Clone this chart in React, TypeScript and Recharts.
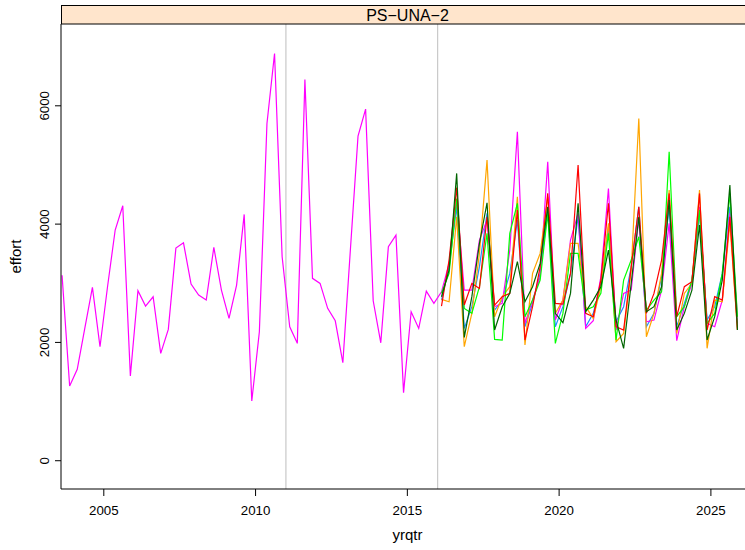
import React from 'react';
import { LineChart, Line, XAxis, YAxis, ReferenceLine } from 'recharts';

const FONT = '"Liberation Sans", Arial, Helvetica, sans-serif';

// Quarter mid-points (year + 0.125, 0.375, 0.625, 0.875)
const quarterTimes = (start: number, n: number) =>
  Array.from({ length: n }, (_, i) => start + i * 0.25);

const HIST_START = 2003.625;
const PROJ_START = 2016.125;

// Observed effort, 2003 Q3 .. 2016 Q1
const histEffort = [
  3135, 1262, 1545, 2240, 2930, 1927, 2950, 3900, 4310, 1432, 2873, 2614, 2772,
  1815, 2220, 3595, 3684, 2986, 2800, 2716, 3606, 2885, 2406, 2969, 4164, 1009,
  2180, 5702, 6885, 3448, 2265, 1984, 6446, 3083, 2998, 2576, 2366, 1656, 3578,
  5487, 5944, 2704, 1994, 3617, 3814, 1149, 2518, 2237, 2868, 2660, 2856,
];

// Projected effort, 2016 Q1 .. 2025 Q4
const projDarkgreen = [
  2772, 3223, 4857, 2085, 2773, 3674, 4361, 2209, 2604, 2829, 3364, 2688,
  2942, 3336, 4293, 2491, 2333, 2829, 4350, 2520, 2716, 2942, 3561, 2378,
  1900, 2998, 4124, 2519, 2604, 2942, 4406, 2209, 2491, 2885, 3984, 2040,
  2435, 3054, 4660, 2209,
];
const projRed = [
  2615, 3392, 4620, 2632, 2998, 2913, 4124, 2632, 2773, 2829, 4237, 2040,
  2604, 3280, 4519, 2660, 2649, 3167, 4998, 2491, 2435, 3054, 4350, 2266,
  2209, 3280, 4293, 2491, 2829, 3392, 4519, 2435, 2942, 3026, 4519, 2209,
  2773, 2716, 4124, 2209,
];
const projGreen = [
  2830, 3167, 4434, 2575, 2491, 2942, 3843, 2052, 2040, 3843, 4350, 2435,
  2716, 3054, 4181, 1984, 2491, 3505, 3505, 2547, 2604, 2829, 3843, 2040,
  3054, 3392, 3787, 2547, 2716, 2857, 5223, 2435, 2604, 3054, 4237, 2322,
  2491, 3167, 4519, 2435,
];
const projBlue = [
  2716, 3280, 4293, 2237, 2604, 3280, 4181, 2547, 2716, 3167, 4068, 2266,
  2660, 3167, 4237, 2266, 2604, 3167, 4124, 2266, 2491, 2998, 3956, 2350,
  2604, 3280, 4293, 2266, 2491, 3110, 4293, 2266, 2660, 3054, 4181, 2378,
  2604, 3167, 4293, 2322,
];
const projMagenta = [
  2856, 3336, 4406, 2885, 2885, 3730, 4068, 2604, 2660, 3561, 5561, 2322,
  2716, 3110, 5054, 2378, 2716, 3730, 4181, 2237, 2367, 3110, 4603, 2209,
  2829, 2885, 4096, 2350, 2378, 2885, 4012, 2029, 2604, 2998, 4293, 2322,
  2266, 2716, 4181, 2435,
];
const projOrange = [
  2727, 2688, 4124, 1928, 2491, 3505, 5082, 2435, 2773, 2942, 4462, 1956,
  3167, 3505, 4462, 2491, 2716, 3674, 3674, 2604, 2406, 2942, 4012, 2012,
  2153, 3223, 5786, 2096, 2491, 3167, 4575, 2153, 2829, 2998, 4575, 1900,
  2716, 2688, 4012, 2209,
];

const X_TICKS = [2005, 2010, 2015, 2020, 2025];
const Y_TICKS = [0, 2000, 4000, 6000];
const REF_YEARS = [2011, 2016];

const projSeries = [
  { key: 'blue', values: projBlue, color: '#1E90FF' },
  { key: 'magenta', values: projMagenta, color: '#FF00FF' },
  { key: 'orange', values: projOrange, color: '#FFA500' },
  { key: 'green', values: projGreen, color: '#00FF00' },
  { key: 'red', values: projRed, color: '#FF0000' },
  { key: 'darkgreen', values: projDarkgreen, color: '#006400' },
];

// Merge everything into one table keyed by yrqtr
const buildRows = () => {
  const map = new Map<number, Record<string, number>>();
  const put = (t: number, k: string, v: number) => {
    const key = Math.round(t * 1000) / 1000;
    if (!map.has(key)) map.set(key, { yrqtr: key });
    map.get(key)![k] = v;
  };
  quarterTimes(HIST_START, histEffort.length).forEach((t, i) => put(t, 'hist', histEffort[i]));
  projSeries.forEach((s) =>
    quarterTimes(PROJ_START, s.values.length).forEach((t, i) => put(t, s.key, s.values[i]))
  );
  return Array.from(map.values()).sort((a, b) => a.yrqtr - b.yrqtr);
};
const rows = buildRows();

const XTick = (props: any) => {
  const { x, payload } = props;
  return (
    <text x={x} y={514.5} textAnchor="middle" fontSize={13.3} fontFamily={FONT} fill="#000">
      {payload.value}
    </text>
  );
};

const YTick = (props: any) => {
  const { y, payload } = props;
  const bx = 49.5;
  return (
    <text
      x={bx}
      y={y}
      textAnchor="middle"
      fontSize={13.3}
      fontFamily={FONT}
      fill="#000"
      transform={`rotate(-90 ${bx} ${y})`}
    >
      {payload.value}
    </text>
  );
};

export default function App() {
  return (
    <div
      style={{
        position: 'absolute',
        left: 0,
        top: 0,
        width: 745,
        height: 550,
        overflow: 'hidden',
        background: '#fff',
      }}
    >
      <LineChart
        width={760}
        height={550}
        data={rows}
        margin={{ top: 24, right: 6, bottom: 21, left: 21 }}
      >
        <XAxis
          dataKey="yrqtr"
          type="number"
          domain={[2003.59, 2026.42]}
          allowDataOverflow
          ticks={X_TICKS}
          interval={0}
          tickSize={7}
          height={40}
          stroke="#000"
          tick={<XTick />}
        />
        <YAxis
          type="number"
          domain={[-478, 7383]}
          allowDataOverflow
          ticks={Y_TICKS}
          interval={0}
          tickSize={6}
          width={40}
          stroke="#000"
          tick={<YTick />}
        />
        {REF_YEARS.map((yr) => (
          <ReferenceLine key={yr} x={yr} stroke="#BEBEBE" strokeWidth={1} />
        ))}
        <Line
          dataKey="hist"
          stroke="#FF00FF"
          strokeWidth={1.2}
          dot={false}
          isAnimationActive={false}
        />
        {projSeries.map((s) => (
          <Line
            key={s.key}
            dataKey={s.key}
            stroke={s.color}
            strokeWidth={1.2}
            dot={false}
            isAnimationActive={false}
          />
        ))}
      </LineChart>
      <svg
        width={745}
        height={550}
        style={{ position: 'absolute', left: 0, top: 0, pointerEvents: 'none' }}
      >
        <rect x={61.5} y={5.5} width={700} height={18.5} fill="#FFE5CC" stroke="#000" strokeWidth={1} />
        <text x={407.5} y={20.5} textAnchor="middle" fontSize={16} fontFamily={FONT} fill="#000">
          PS−UNA−2
        </text>
        <text
          x={21}
          y={256.5}
          textAnchor="middle"
          fontSize={15}
          fontFamily={FONT}
          fill="#000"
          transform="rotate(-90 21 256.5)"
        >
          effort
        </text>
        <text x={407.5} y={540} textAnchor="middle" fontSize={15} fontFamily={FONT} fill="#000">
          yrqtr
        </text>
      </svg>
    </div>
  );
}
